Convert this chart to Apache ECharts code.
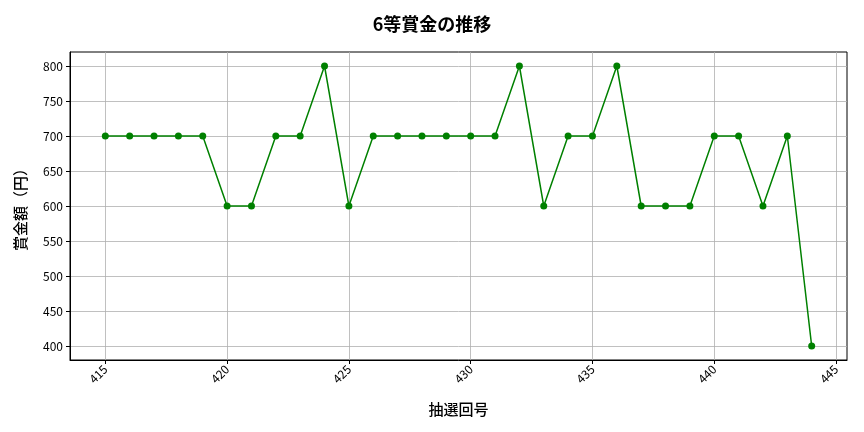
<!DOCTYPE html>
<html><head><meta charset="utf-8">
<script src="https://cdn.jsdelivr.net/npm/echarts@6/dist/echarts.min.js"></script>
<style>html,body{margin:0;padding:0;background:#fff}#c{width:864px;height:432px}</style>
</head><body><div id="c"></div>
<script>
const draws = [415,416,417,418,419,420,421,422,423,424,425,426,427,428,429,430,431,432,433,434,435,436,437,438,439,440,441,442,443,444];
const prizes = [700,700,700,700,700,600,600,700,700,800,600,700,700,700,700,700,700,800,600,700,700,800,600,600,600,700,700,600,700,400];
const xTicks = [415,420,425,430,435,440,445];
const yTicks = [400,450,500,550,600,650,700,750,800];
const F = '"Noto Sans CJK JP","Noto Sans",sans-serif';
const chart = echarts.init(document.getElementById('c'));
chart.setOption({
  animation:false,
  title:{text:'6等賞金の推移',left:'center',top:10,textStyle:{fontFamily:F,fontSize:18,fontWeight:'bold',color:'#000'}},
  grid:{left:70,right:17,top:52,bottom:72,show:true,borderColor:'#000',borderWidth:1,backgroundColor:'transparent'},
  xAxis:{type:'value',min:413.55,max:445.45,
    name:'抽選回号',nameLocation:'middle',nameGap:42,
    nameTextStyle:{fontFamily:F,fontSize:15,fontWeight:500,color:'#000'},
    axisLine:{show:true,onZero:false,lineStyle:{color:'#000'}},
    axisTick:{show:true,length:4,customValues:xTicks,lineStyle:{color:'#000'}},
    axisLabel:{customValues:xTicks,rotate:45,fontFamily:F,fontSize:12,color:'#000',margin:7,showMinLabel:true,showMaxLabel:true},
    splitLine:{show:true,lineStyle:{color:'#b0b0b0',width:0.8}}
  },
  yAxis:{type:'value',min:380,max:820,
    name:'賞金額（円）',nameLocation:'middle',nameGap:42,nameRotate:90,
    nameTextStyle:{fontFamily:F,fontSize:15,fontWeight:500,color:'#000'},
    axisLine:{show:true,lineStyle:{color:'#000'}},
    axisTick:{show:true,length:4,customValues:yTicks,lineStyle:{color:'#000'}},
    axisLabel:{customValues:yTicks,fontFamily:F,fontSize:12,color:'#000',margin:7},
    splitLine:{show:true,lineStyle:{color:'#b0b0b0',width:0.8}}
  },
  series:[{type:'line',data:draws.map((d,i)=>[d,prizes[i]]),
    symbol:'circle',symbolSize:7,
    lineStyle:{color:'#008000',width:1.5},
    itemStyle:{color:'#008000'}}]
});
</script></body></html>
